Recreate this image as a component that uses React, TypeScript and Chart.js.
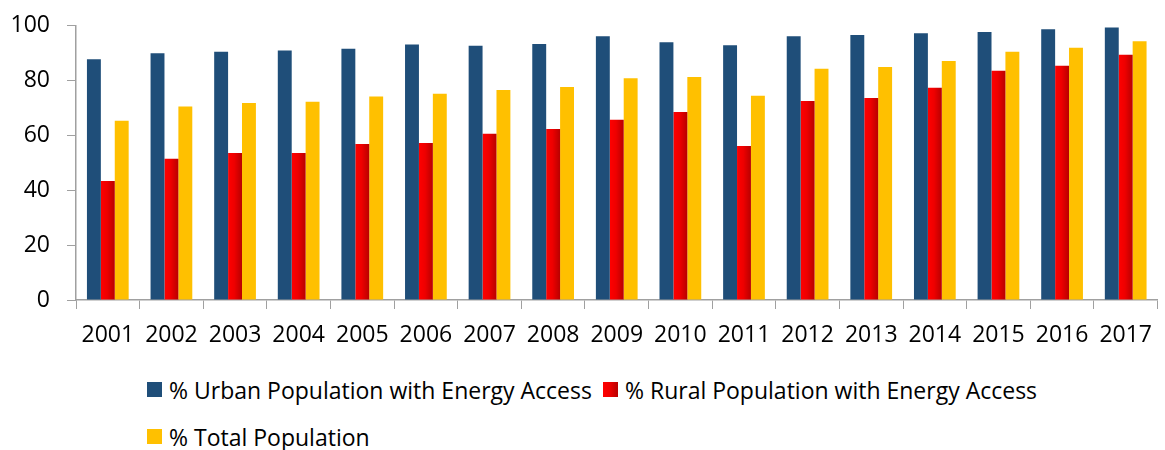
import React, { useEffect, useRef } from "react";
import { Chart, registerables } from "chart.js";

Chart.register(...registerables);

const years = ["2001","2002","2003","2004","2005","2006","2007","2008","2009","2010","2011","2012","2013","2014","2015","2016","2017"];
const urban = [87.8, 90.0, 90.5, 91.0, 91.6, 93.2, 92.7, 93.4, 96.2, 94.0, 92.9, 96.2, 96.6, 97.3, 97.7, 98.7, 99.4];
const rural = [43.4, 51.5, 53.6, 53.6, 56.9, 57.3, 60.6, 62.4, 65.7, 68.6, 56.2, 72.6, 73.7, 77.4, 83.6, 85.4, 89.4];
const total = [65.4, 70.6, 71.8, 72.3, 74.2, 75.2, 76.6, 77.7, 80.9, 81.3, 74.5, 84.3, 85.0, 87.2, 90.5, 92.0, 94.4];
const seriesLabels = [
  "% Urban Population with Energy Access",
  "% Rural Population with Energy Access",
  "% Total Population",
];
const yTicks = [0, 20, 40, 60, 80, 100];

const NAVY = "#1F4E79";
const RED = "#FF0000";
const GOLD = "#FFC000";
const AXIS = "#A0A0A0";
const FONT = "'Open Sans', sans-serif";
const CAT_PCT = 0.656;

export default function App() {
  const ref = useRef<HTMLCanvasElement | null>(null);

  useEffect(() => {
    document.body.style.margin = "0";
    const canvas = ref.current;
    if (!canvas) return;

    const redFill = (ctx: any) => {
      const chart = ctx.chart;
      const area = chart.chartArea;
      const xs = chart.scales && chart.scales.x;
      if (!area || !xs || ctx.dataIndex === undefined) return RED;
      const cx = xs.getPixelForValue(ctx.dataIndex);
      const catW = (area.right - area.left) / years.length;
      const w = (catW * CAT_PCT) / 3;
      const g = chart.ctx.createLinearGradient(cx - w / 2, 0, cx + w / 2, 0);
      g.addColorStop(0, "#FF0000");
      g.addColorStop(0.45, "#EE0000");
      g.addColorStop(1, "#B80000");
      return g;
    };

    const chart = new Chart(canvas, {
      type: "bar",
      data: {
        labels: years,
        datasets: [
          { label: seriesLabels[0], data: urban, backgroundColor: NAVY },
          { label: seriesLabels[1], data: rural, backgroundColor: redFill },
          { label: seriesLabels[2], data: total, backgroundColor: GOLD },
        ],
      },
      options: {
        animation: false,
        responsive: false,
        maintainAspectRatio: false,
        layout: { padding: { top: 21, left: 0, right: 0, bottom: 0 } },
        plugins: { legend: { display: false }, tooltip: { enabled: false } },
        datasets: {
          bar: { categoryPercentage: CAT_PCT, barPercentage: 1.0, borderWidth: 0 },
        },
        scales: {
          x: {
            offset: true,
            grid: {
              display: true,
              offset: true,
              drawOnChartArea: false,
              drawTicks: true,
              tickLength: 9,
              color: AXIS,
            },
            border: { display: true, color: AXIS, width: 1.5 },
            ticks: {
              color: "#000",
              font: { family: FONT, size: 23 },
              padding: 13,
              maxRotation: 0,
              autoSkip: false,
            },
            afterFit: (s: any) => {
              s.height = 50;
            },
          },
          y: {
            min: 0,
            max: 100,
            afterBuildTicks: (s: any) => {
              s.ticks = yTicks.map((v) => ({ value: v }));
            },
            grid: {
              display: true,
              drawOnChartArea: false,
              drawTicks: true,
              tickLength: 9,
              color: AXIS,
            },
            border: { display: true, color: AXIS, width: 1.5 },
            ticks: {
              color: "#000",
              font: { family: FONT, size: 23 },
              padding: 17,
            },
            afterFit: (s: any) => {
              s.width = 76;
            },
          },
        },
      },
    });
    return () => chart.destroy();
  }, []);

  const colors = [NAVY, RED, GOLD];
  return (
    <div style={{ position: "relative", width: 1165, height: 450, overflow: "hidden", background: "#fff" }}>
      <canvas
        ref={ref}
        width={1165}
        height={355}
        style={{ display: "block", position: "absolute", left: 0, top: -5, width: 1165, height: 355 }}
      />
      <div
        style={{
          position: "absolute",
          left: 147,
          top: 366,
          width: 920,
          display: "flex",
          flexWrap: "wrap",
          fontFamily: FONT,
          fontSize: 23,
          color: "#000",
        }}
      >
        {seriesLabels.map((lab, i) => (
          <div key={lab} style={{ display: "flex", alignItems: "center", height: 47, marginRight: 11, whiteSpace: "nowrap" }}>
            <span
              style={{
                display: "inline-block",
                width: 15,
                height: 15,
                marginRight: 7,
                background: i === 1 ? "linear-gradient(90deg, #FF0000, #EE0000 45%, #B80000)" : colors[i],
              }}
            />
            <span style={{ lineHeight: "30px" }}>{lab}</span>
          </div>
        ))}
      </div>
    </div>
  );
}
